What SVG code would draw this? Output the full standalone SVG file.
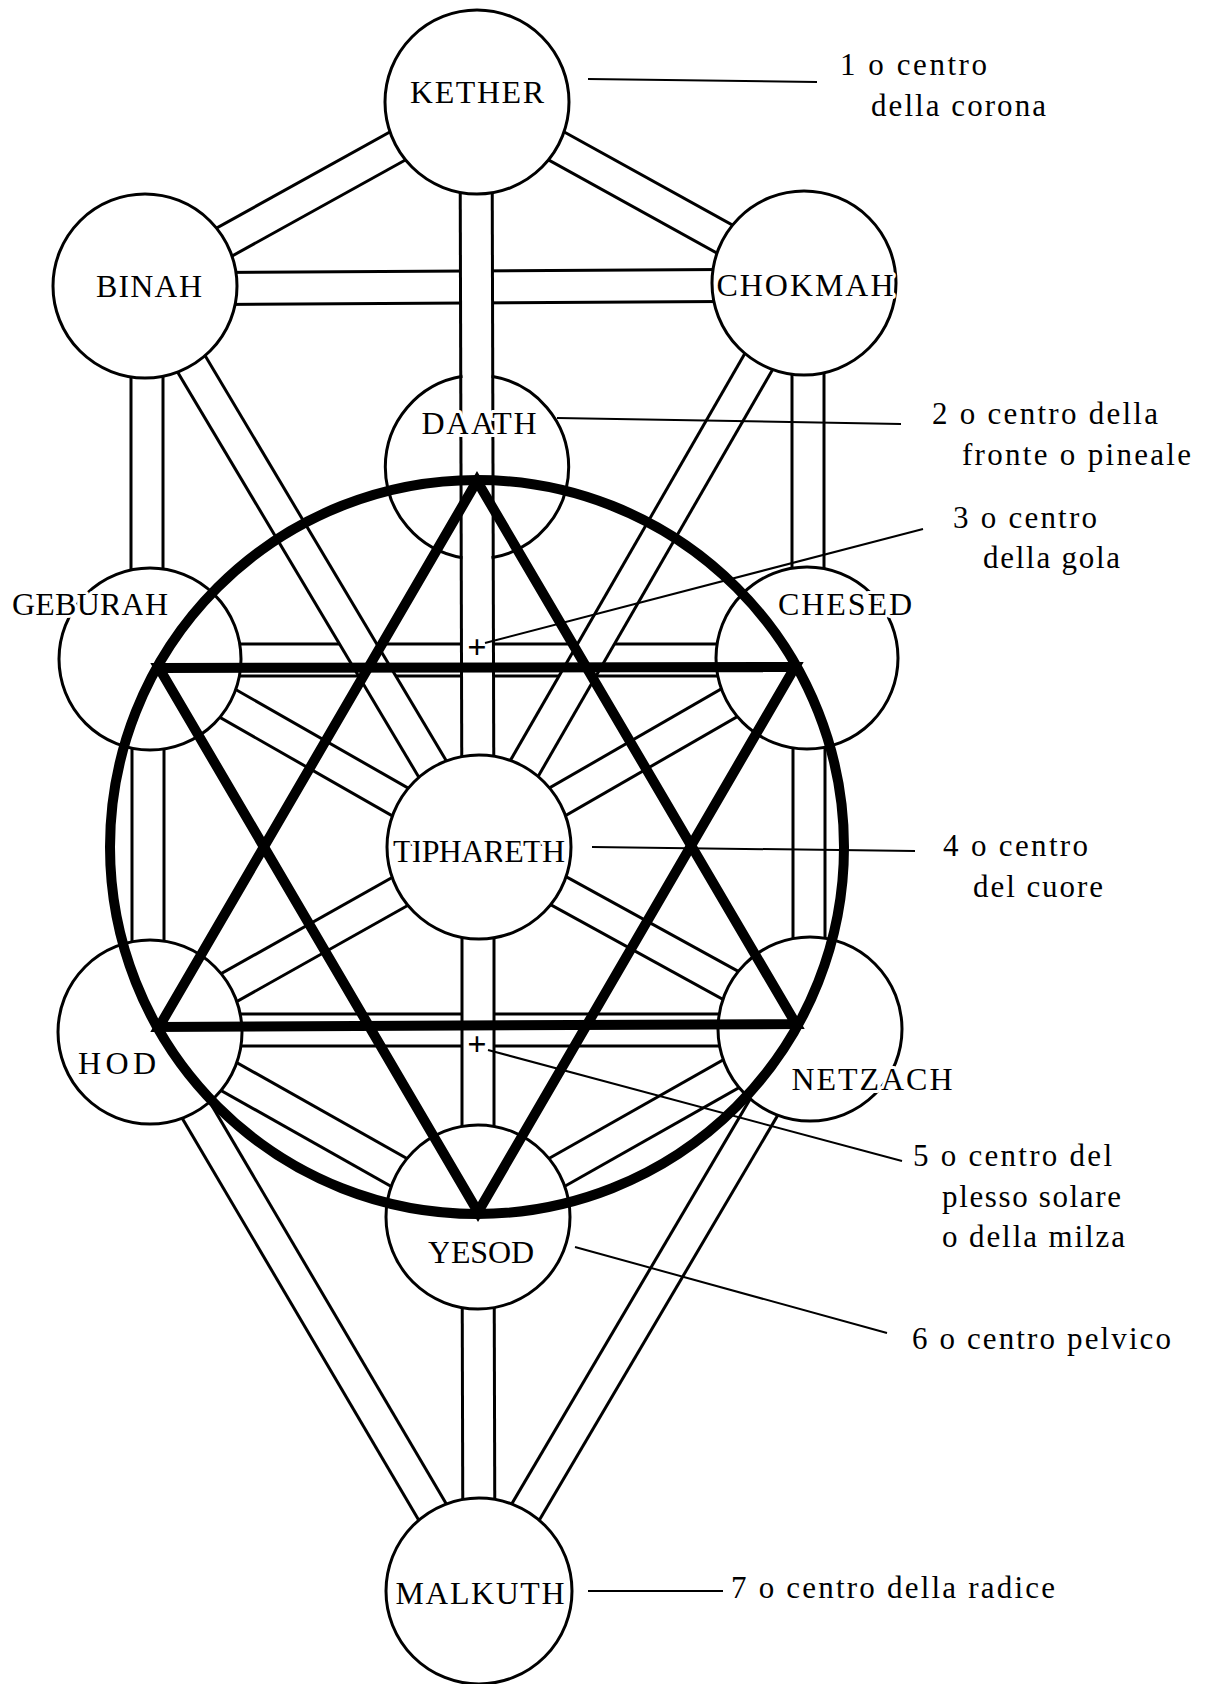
<svg xmlns="http://www.w3.org/2000/svg" width="1206" height="1684" viewBox="0 0 1206 1684">
<style>
.cb{stroke:#000;stroke-width:35;fill:none}
.cw{stroke:#fff;stroke-width:29;fill:none}
.node{fill:#fff;stroke:#000;stroke-width:3}
.ring{fill:none;stroke:#000;stroke-width:3}
.nl{font-family:"Liberation Serif","Times New Roman",serif;font-size:32px;fill:#000;text-anchor:middle;paint-order:stroke;stroke:#fff;stroke-width:6px;stroke-linejoin:round}
.lbl{font-family:"Liberation Serif","Times New Roman",serif;font-size:31px;fill:#000}
.lead{stroke:#000;stroke-width:2;fill:none}
.heavy{stroke:#000;stroke-width:10;fill:none;stroke-linejoin:miter;stroke-miterlimit:10}
.cross{font-family:"Liberation Serif","Times New Roman",serif;font-size:34px;font-weight:bold;fill:#000;text-anchor:middle}
</style>
<rect width="1206" height="1684" fill="#fff"/>

<g id="connectors">
  <path class="cb" d="M145,289 L804,285"/><path class="cw" d="M145,289 L804,285"/>
  <path class="cb" d="M150,660 L807,660"/><path class="cw" d="M150,660 L807,660"/>
  <path class="cb" d="M150,1030 L810,1030"/><path class="cw" d="M150,1030 L810,1030"/>
  <path class="cb" d="M147,286 L147,659"/><path class="cw" d="M147,286 L147,659"/>
  <path class="cb" d="M148,659 L148,1032"/><path class="cw" d="M148,659 L148,1032"/>
  <path class="cb" d="M808,283 L808,658"/><path class="cw" d="M808,283 L808,658"/>
  <path class="cb" d="M809,658 L809,1029"/><path class="cw" d="M809,658 L809,1029"/>
  <path class="cb" d="M476,102 L478,847"/><path class="cw" d="M476,102 L478,847"/>
  <path class="cb" d="M478,847 L478,1217"/><path class="cw" d="M478,847 L478,1217"/>
  <path class="cb" d="M478,1217 L479,1591"/><path class="cw" d="M478,1217 L479,1591"/>
  <path class="cb" d="M477,102 L145,286"/><path class="cw" d="M477,102 L145,286"/>
  <path class="cb" d="M477,102 L804,283"/><path class="cw" d="M477,102 L804,283"/>
  <path class="cb" d="M145,286 L479,847"/><path class="cw" d="M145,286 L479,847"/>
  <path class="cb" d="M804,283 L479,847"/><path class="cw" d="M804,283 L479,847"/>
  <path class="cb" d="M150,659 L479,847"/><path class="cw" d="M150,659 L479,847"/>
  <path class="cb" d="M807,658 L479,847"/><path class="cw" d="M807,658 L479,847"/>
  <path class="cb" d="M150,1032 L479,847"/><path class="cw" d="M150,1032 L479,847"/>
  <path class="cb" d="M810,1029 L479,847"/><path class="cw" d="M810,1029 L479,847"/>
  <path class="cb" d="M150,1032 L478,1217"/><path class="cw" d="M150,1032 L478,1217"/>
  <path class="cb" d="M810,1029 L478,1217"/><path class="cw" d="M810,1029 L478,1217"/>
  <path class="cb" d="M150,1032 L479,1591"/><path class="cw" d="M150,1032 L479,1591"/>
  <path class="cb" d="M810,1029 L479,1591"/><path class="cw" d="M810,1029 L479,1591"/>
</g>

<g id="kether"><circle class="node" cx="477" cy="102" r="92"/><text class="nl" x="477" y="103" textLength="134" lengthAdjust="spacing">KETHER</text></g>
<g id="binah"><circle class="node" cx="145" cy="286" r="92"/><text class="nl" x="149" y="297" textLength="106" lengthAdjust="spacing">BINAH</text></g>
<g id="chokmah"><circle class="node" cx="804" cy="283" r="92"/><text class="nl" x="805" y="296" textLength="177" lengthAdjust="spacing">CHOKMAH</text></g>
<g id="daath"><path class="ring" d="M462.5,376.2 A92,92 0 0,0 462.5,557.8 M491.5,376.2 A92,92 0 0,1 491.5,557.8"/><text class="nl" x="479" y="434" textLength="115" lengthAdjust="spacing">DAATH</text></g>
<g id="geburah"><circle class="node" cx="150" cy="659" r="91"/><text class="nl" x="90" y="615" textLength="156" lengthAdjust="spacing">GEBURAH</text></g>
<g id="chesed"><circle class="node" cx="807" cy="658" r="91"/><text class="nl" x="845" y="615" textLength="134" lengthAdjust="spacing">CHESED</text></g>
<g id="tiphareth"><circle class="node" cx="479" cy="847" r="92"/><text class="nl" x="479" y="862" textLength="172" lengthAdjust="spacing">TIPHARETH</text></g>
<g id="hod"><circle class="node" cx="150" cy="1032" r="92"/><text class="nl" x="117" y="1074" textLength="78" lengthAdjust="spacing">HOD</text></g>
<g id="netzach"><circle class="node" cx="810" cy="1029" r="92"/><text class="nl" x="872" y="1090" textLength="161" lengthAdjust="spacing">NETZACH</text></g>
<g id="yesod"><circle class="node" cx="478" cy="1217" r="92"/><text class="nl" x="481" y="1263" textLength="106" lengthAdjust="spacing">YESOD</text></g>
<g id="malkuth"><circle class="node" cx="479" cy="1591" r="93"/><text class="nl" x="480" y="1604" textLength="169" lengthAdjust="spacing">MALKUTH</text></g>

<g id="seal">
  <circle class="heavy" cx="477" cy="847" r="367"/>
  <polygon class="heavy" points="477,481 159,1027 796,1024"/>
  <polygon class="heavy" points="159,668 795,667 478,1212"/>
</g>

<g id="leaders">
  <line class="lead" x1="588" y1="79" x2="817" y2="82"/>
  <line class="lead" x1="557" y1="418" x2="901" y2="424"/>
  <line class="lead" x1="485" y1="643" x2="923" y2="529"/>
  <line class="lead" x1="592" y1="847" x2="915" y2="851"/>
  <line class="lead" x1="488" y1="1050" x2="902" y2="1161"/>
  <line class="lead" x1="575" y1="1247" x2="887" y2="1333"/>
  <line class="lead" x1="588" y1="1591" x2="723" y2="1591"/>
</g>

<g id="marks">
  <text class="cross" x="477" y="658">+</text>
  <text class="cross" x="477" y="1055">+</text>
</g>

<g id="labels">
  <text class="lbl" x="840" y="75" textLength="147" lengthAdjust="spacing">1 o centro</text>
  <text class="lbl" x="871" y="116" textLength="175" lengthAdjust="spacing">della corona</text>
  <text class="lbl" x="932" y="424" textLength="226" lengthAdjust="spacing">2 o centro della</text>
  <text class="lbl" x="962" y="465" textLength="229" lengthAdjust="spacing">fronte o pineale</text>
  <text class="lbl" x="953" y="528" textLength="144" lengthAdjust="spacing">3 o centro</text>
  <text class="lbl" x="983" y="568" textLength="137" lengthAdjust="spacing">della gola</text>
  <text class="lbl" x="943" y="856" textLength="145" lengthAdjust="spacing">4 o centro</text>
  <text class="lbl" x="973" y="897" textLength="130" lengthAdjust="spacing">del cuore</text>
  <text class="lbl" x="913" y="1166" textLength="199" lengthAdjust="spacing">5 o centro del</text>
  <text class="lbl" x="942" y="1207" textLength="179" lengthAdjust="spacing">plesso solare</text>
  <text class="lbl" x="942" y="1247" textLength="183" lengthAdjust="spacing">o della milza</text>
  <text class="lbl" x="912" y="1349" textLength="259" lengthAdjust="spacing">6 o centro pelvico</text>
  <text class="lbl" x="731" y="1598" textLength="324" lengthAdjust="spacing">7 o centro della radice</text>
</g>
</svg>
